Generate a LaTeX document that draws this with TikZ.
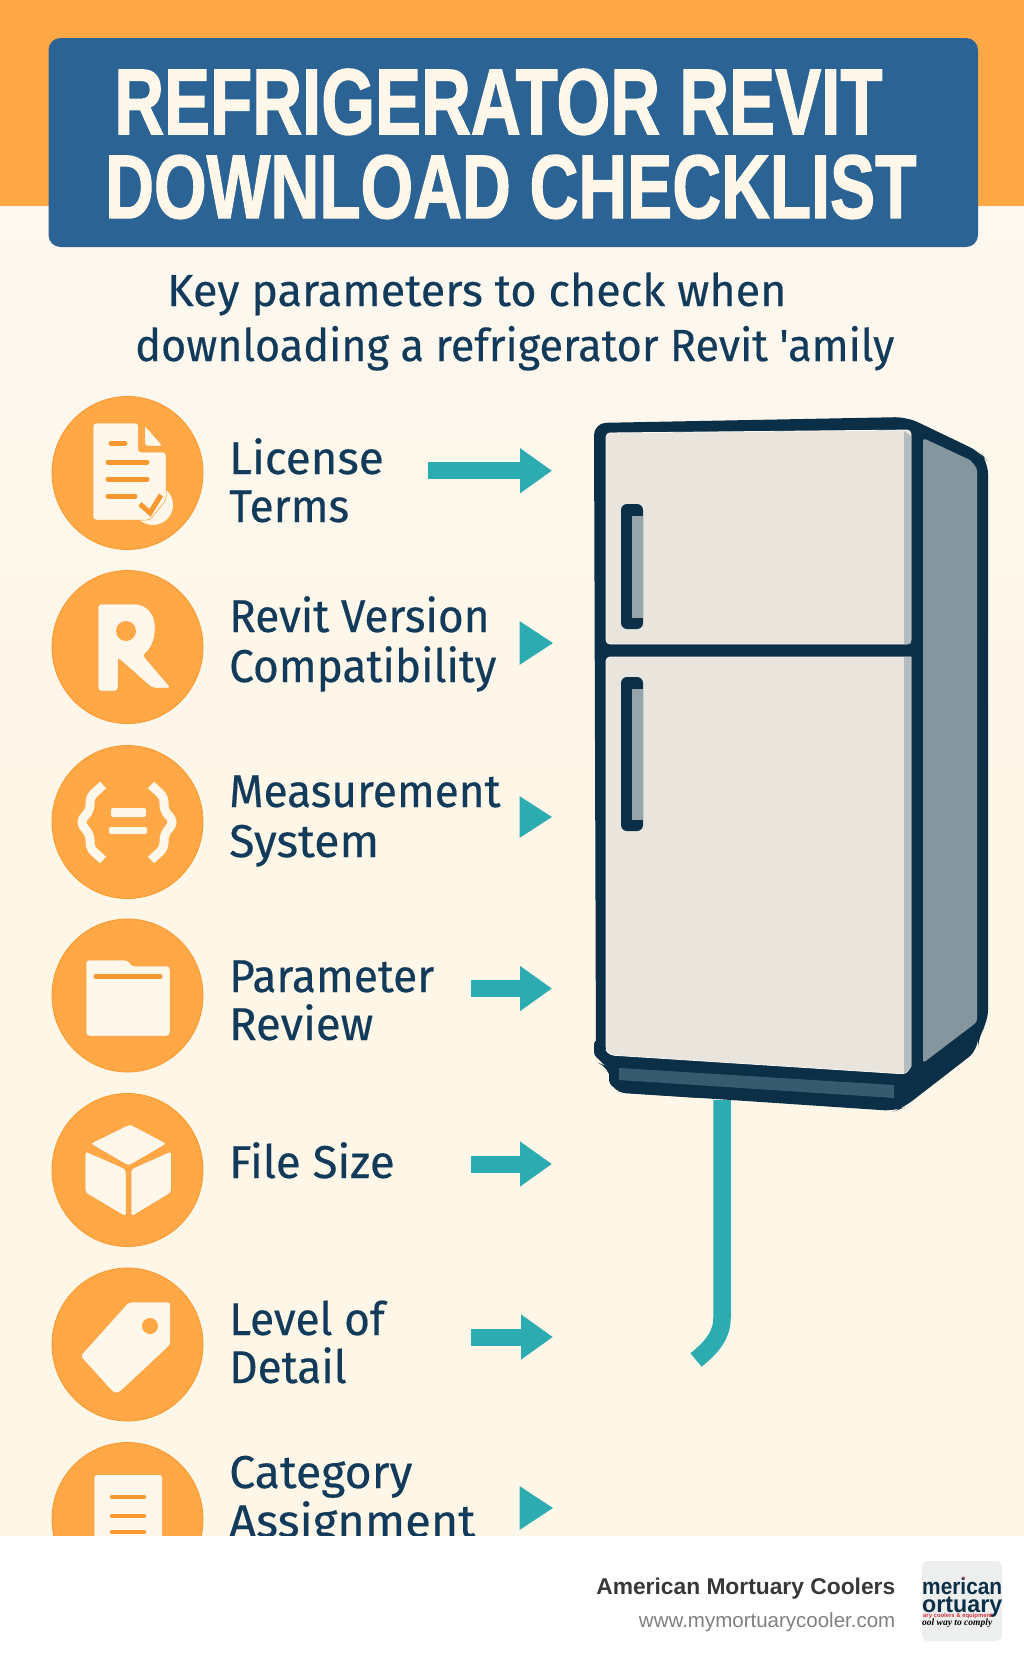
\documentclass[tikz,border=0pt]{standalone}
\usepackage{fontspec}
\usepackage{graphicx}
\usetikzlibrary{arrows.meta}
\setmainfont{Liberation Sans}
\newfontfamily\titlefont[BoldFeatures={FakeBold=1.6}]{Liberation Sans}
\newfontfamily\itemfont[FakeStretch=0.96,FakeBold=0.35]{Fira Sans}
\newfontfamily\subfont[FakeStretch=0.96,FakeBold=0.3]{Fira Sans}
\newfontfamily\logoscript{Liberation Serif}
\definecolor{bandorange}{HTML}{FFA845}
\definecolor{ringorange}{HTML}{F9982F}
\definecolor{bannerblue}{HTML}{2A6394}
\definecolor{cream}{HTML}{FEF6E7}
\definecolor{creamtop}{HTML}{FDF8F0}
\definecolor{iconcream}{HTML}{FEF7EA}
\definecolor{navy}{HTML}{123A5A}
\definecolor{fridgedark}{HTML}{0B2F47}
\definecolor{doorfill}{HTML}{EAE5DC}
\definecolor{sidefill}{HTML}{84979F}
\definecolor{stripfill}{HTML}{8FA2AC}
\definecolor{handlefill}{HTML}{97A4A9}
\definecolor{platefill}{HTML}{385A6E}
\definecolor{arrowteal}{HTML}{2CABB0}
\definecolor{logogrey}{HTML}{EDEFEF}
\definecolor{logored}{HTML}{D9303E}
\tikzset{
	ringdot/.style={fill=bandorange, draw=ringorange, line width=0.8pt},
	iconfill/.style={fill=iconcream, draw=ringorange, line width=0.5pt, rounded corners=3pt},
	iconline/.style={draw=ringorange, line width=5pt, line cap=round},
	itemlabel/.style={inner sep=0, anchor=base west, text=navy, font=\itemfont\fontsize{46}{46}\selectfont},
	sublabel/.style={inner sep=0, anchor=base west, text=navy, font=\subfont\fontsize{45}{45}\selectfont},
	titlelabel/.style={inner sep=0, anchor=base west, text=iconcream, font=\titlefont\bfseries},
	blockarrow/.style={draw=arrowteal, line width=17pt, -{Triangle[length=32pt,width=43pt]}},
	pointer/.style={draw=arrowteal, line width=1pt, fill=arrowteal},
	footlabel/.style={inner sep=0, anchor=base east},
	logolabel/.style={inner sep=0, anchor=base west}
}
\begin{document}
\begin{tikzpicture}[x=1pt, y=-1pt]
	\useasboundingbox (0,0) rectangle (1024,1666);
	\shade [top color=creamtop, bottom color=cream] (0,206) rectangle (1024,800);
	\fill [cream] (0,800) rectangle (1024,1536);
	\fill [bandorange] (0,0) rectangle (1024,206);
	\fill [bannerblue, rounded corners=12pt] (48.5,38) rectangle (978,247);
	\node (titleA) [titlelabel] at (114,134) {\resizebox{768pt}{65pt}{REFRIGERATOR REVIT}};
	\node (titleB) [titlelabel] at (105,218) {\resizebox{811pt}{63pt}{DOWNLOAD CHECKLIST}};
	\node (subA) [sublabel] at (167,306) {\scalebox{1.04}[1]{Key parameters to check when}};
	\node (subB) [sublabel] at (135,361) {downloading a refrigerator Revit 'amily};

	\fill [ringdot] (127.5,473) circle [x radius=75.5, y radius=76.5];
	\fill [iconcream] (153,505) circle (20);
	\fill [iconfill] (93,423) -- (138.5,423) -- (138.5,452) -- (166,452) -- (166,500) -- (150,520) -- (93,520) -- cycle;
	\fill [iconfill] (144.6,425) -- (163,446) -- (144.6,446) -- cycle;
	\draw [iconline] (111,443) -- (125,443);
	\draw [iconline] (108,462) -- (147,462);
	\draw [iconline] (108,479) -- (147,479);
	\draw [iconline] (108,496) -- (135,496);
	\draw [iconline, line cap=butt] (140,504) -- (150,513) -- (161,495);

	\fill [ringdot] (127.5,647) circle [x radius=75.5, y radius=76.5];
	\fill [iconfill, even odd rule] (98,604) -- (132,604) .. controls (147,604) and (155,615) .. (155,628) .. controls (155,640) and (150,650) .. (143,655) -- (171,688) -- (152,688) -- (118,658) -- (118,691) -- (98,691) -- cycle;
	\fill [bandorange] (126,631) circle (10);

	\fill [ringdot] (127.5,822) circle [x radius=75.5, y radius=76.5];
	\draw [draw=iconcream, line width=9pt, line join=round, rounded corners=5pt] (103,785) -- (90,797) -- (90,810) -- (80,822) -- (90,835) -- (90,848) -- (103,860);
	\draw [draw=iconcream, line width=9pt, line join=round, rounded corners=5pt] (151,785) -- (164,797) -- (164,810) -- (174,822) -- (164,835) -- (164,848) -- (151,860);
	\fill [iconcream, rounded corners=2pt] (111,808) rectangle (146,817);
	\fill [iconcream, rounded corners=2pt] (109,827) rectangle (147,834);

	\fill [ringdot] (127.5,995.5) circle [x radius=75.5, y radius=76.5];
	\fill [iconfill] (86,960) -- (128,960) -- (132,966) -- (170,966) -- (170,1036) -- (86,1036) -- cycle;
	\draw [iconline] (96,976.5) -- (160,976.5);

	\fill [ringdot] (127.5,1170) circle [x radius=75.5, y radius=76.5];
	\fill [iconfill] (130,1124) -- (167,1143.6) -- (128.6,1166) -- (90,1143.6) -- cycle;
	\fill [iconfill] (85,1151) -- (126,1169) -- (126,1217) -- (85,1192.6) -- cycle;
	\fill [iconfill] (131,1169) -- (171.4,1151) -- (171.4,1192.6) -- (131,1217) -- cycle;

	\fill [ringdot] (127.5,1344.5) circle [x radius=75.5, y radius=76.5];
	\fill [iconfill] (128.6,1302) -- (170.7,1302) -- (170.7,1344.6) -- (119,1393) -- (113.6,1393) -- (80,1356) -- cycle;
	\fill [bandorange] (150,1326) circle (8);

	\fill [ringdot] (127.5,1519) circle [x radius=75.5, y radius=76.5];
	\fill [iconfill] (94,1474.5) rectangle (162.5,1560);
	\draw [iconline, line width=4.5pt] (112,1497) -- (144,1497);
	\draw [iconline, line width=4.5pt] (112,1516) -- (144,1516);
	\draw [iconline, line width=4.5pt] (112,1532) -- (144,1532);

	\node (license) [itemlabel] at (229,474) {\scalebox{1.035}[1]{License}};
	\node (terms) [itemlabel] at (229,522) {Terms};
	\node (revit) [itemlabel] at (229,632) {Revit Version};
	\node (compat) [itemlabel] at (229,682) {Compatibility};
	\node (measure) [itemlabel] at (229,807) {Measurement};
	\node (system) [itemlabel] at (229,857) {\scalebox{1.05}[1]{System}};
	\node (param) [itemlabel] at (229,992) {Parameter};
	\node (review) [itemlabel] at (229,1040) {\scalebox{1.03}[1]{Review}};
	\node (filesize) [itemlabel] at (229,1178) {\scalebox{1.03}[1]{File Size}};
	\node (level) [itemlabel] at (229,1335) {Level of};
	\node (detail) [itemlabel] at (229,1383) {Detail};
	\node (category) [itemlabel] at (229,1488) {\scalebox{1.05}[1]{Category}};
	\node (assign) [itemlabel] at (229,1537) {\scalebox{1.065}[1]{Assignment}};

	\coordinate (startA) at (428,470.7);
	\coordinate (tipA) at (552,470.7);
	\draw [blockarrow] (startA) -- (tipA);
	\coordinate (tipB) at (552,643);
	\fill [pointer] (520,622) -- (tipB) -- (520,664) -- cycle;
	\coordinate (tipC) at (551,817);
	\fill [pointer] (520,797) -- (tipC) -- (520,837) -- cycle;
	\coordinate (startD) at (471,988.5);
	\coordinate (tipD) at (552,988.5);
	\draw [blockarrow] (startD) -- (tipD);
	\coordinate (startE) at (471,1164);
	\coordinate (tipE) at (552,1164);
	\draw [blockarrow] (startE) -- (tipE);
	\coordinate (startF) at (471,1337);
	\coordinate (tipF) at (553,1337);
	\draw [blockarrow] (startF) -- (tipF);
	\coordinate (tipG) at (552,1508);
	\fill [pointer] (520,1487) -- (tipG) -- (520,1529) -- cycle;

	\fill [fridgedark, rounded corners=12pt] (594,423) -- (907,417) -- (980,452) -- (988,462) -- (988,1022) -- (978,1037) -- (978,1050) -- (903,1108) -- (895,1111) -- (612,1092) -- (609,1067) -- (596,1062) -- cycle;
	\fill [fridgedark, rounded corners=4pt] (594,1040) -- (594,1056) -- (609,1066) -- (609,1084) -- (622,1093) -- (700,1098) -- (700,1040) -- cycle;
	\fill [sidefill] (923,438) -- (970,460) [rounded corners=3pt] -- (977,468) -- (977,1022) -- (923,1063) -- cycle;
	\fill [doorfill, draw=white!70!doorfill, line width=0.8pt, rounded corners=4pt] (606,433) -- (911,430) -- (911,644) -- (606,644) -- cycle;
	\fill [stripfill, opacity=0.6] (904,431) -- (911,436) -- (911,644) -- (904,644) -- cycle;
	\fill [doorfill, draw=white!70!doorfill, line width=0.8pt] (606,657) -- (911,657) -- (911,1066) [rounded corners=4pt] -- (906,1074) -- (610,1055) -- (606,1050) -- cycle;
	\fill [stripfill, opacity=0.6] (904,657) -- (911,657) -- (911,1068) -- (904,1074) -- cycle;
	\fill [platefill] (619,1068) -- (894,1085) -- (894,1098) -- (619,1080) -- cycle;
	\fill [fridgedark, rounded corners=6pt] (621,504) rectangle (643,629);
	\fill [handlefill] (632,516) rectangle (643,618);
	\fill [fridgedark, rounded corners=6pt] (621,677) rectangle (643,831);
	\fill [handlefill] (632,689) rectangle (643,820);
	\coordinate (pipeTop) at (722,1100);
	\coordinate (pipeEnd) at (696,1360);
	\draw [draw=arrowteal, line width=17.5pt] (pipeTop) -- (722,1318) .. controls (722,1335) and (712,1347) .. (pipeEnd);

	\fill [white] (0,1536) rectangle (1024,1666);
	\node (brand) [footlabel, text=black!78, font=\bfseries\fontsize{22.8}{23}\selectfont] at (895.5,1594) {American Mortuary Coolers};
	\node (site) [footlabel, text=black!50, font=\fontsize{20.5}{21}\selectfont] at (895.5,1627) {www.mymortuarycooler.com};
	\fill [logogrey, rounded corners=6pt] (922,1561) rectangle (1002,1641);
	\begin{scope}
		\clip [rounded corners=6pt] (922,1561) rectangle (1002,1641);
		\node (logoA) [logolabel, text=fridgedark] at (922,1594) {\resizebox{80pt}{16.5pt}{\bfseries merican}};
		\node (logoB) [logolabel, text=fridgedark] at (922,1612) {\resizebox{80pt}{15.5pt}{\bfseries ortuary}};
		\node (logoC) [logolabel, text=logored] at (923,1617) {\resizebox{69pt}{!}{\bfseries ary coolers \& equipment}};
		\node (logoD) [logolabel, text=black] at (922,1625) {\resizebox{70pt}{!}{\logoscript\bfseries\itshape ool way to comply}};
		\node (logoStar) [inner sep=0, text=logored, font=\fontsize{7}{7}\selectfont] at (964,1578) {$\star$};
	\end{scope}
\end{tikzpicture}
\end{document}
